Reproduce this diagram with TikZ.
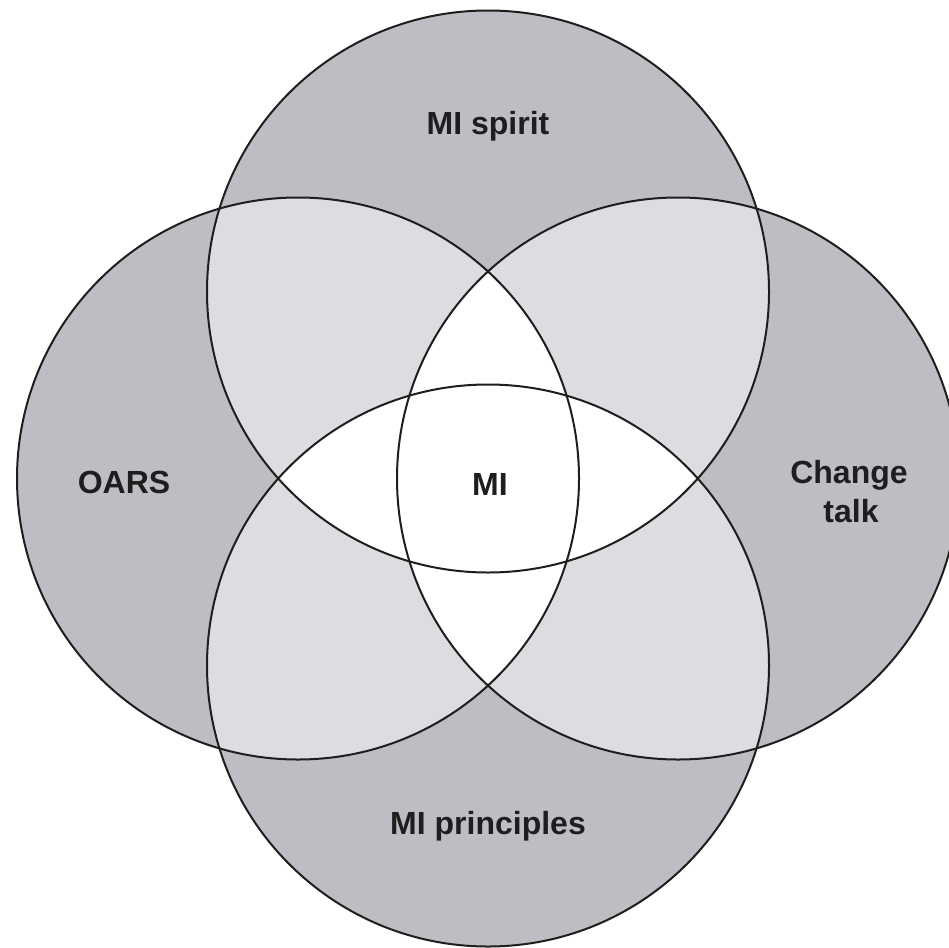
\documentclass[tikz,border=0pt]{standalone}
\usepackage{fontspec}
\setmainfont{Liberation Sans}
\definecolor{darkfill}{RGB}{189,190,195}
\definecolor{lightfill}{RGB}{220,221,225}
\definecolor{inkcol}{RGB}{30,30,30}
\begin{document}
\begin{tikzpicture}[x=1pt,y=-1pt,
  ring/.style={draw=inkcol,line width=2pt},
  lbl/.style={anchor=base,inner sep=0pt,text=inkcol,font=\fontsize{32}{39}\selectfont\bfseries}]
\useasboundingbox (0,0) rectangle (949,947);
\def\rr{281}
\coordinate (T) at (488,291.5);
\coordinate (B) at (488,665.5);
\coordinate (L) at (298,478.5);
\coordinate (R) at (678,478.5);
% one circle: dark
\foreach \c in {T,B,L,R}{\fill[darkfill] (\c) circle[radius=\rr];}
% two adjacent circles: light
\foreach \a/\b in {T/L,T/R,B/L,B/R}{
  \begin{scope}
    \clip (\a) circle[radius=\rr];
    \fill[lightfill] (\b) circle[radius=\rr];
  \end{scope}}
% three or more circles: white
\foreach \a/\b in {T/B,L/R}{
  \begin{scope}
    \clip (\a) circle[radius=\rr];
    \fill[white] (\b) circle[radius=\rr];
  \end{scope}}
% outlines
\foreach \c in {T,B,L,R}{\draw[ring] (\c) circle[radius=\rr];}
% labels
\node[lbl] (spirit) at (488,134) {MI spirit};
\node[lbl] (oars) at (124,493) {OARS};
\node[lbl] (mi) at (490,495) {MI};
\node[lbl] (change) at (849,483) {Change};
\node[lbl] (talk) at (851,522) {talk};
\node[lbl] (principles) at (488,834) {MI principles};
\end{tikzpicture}
\end{document}
